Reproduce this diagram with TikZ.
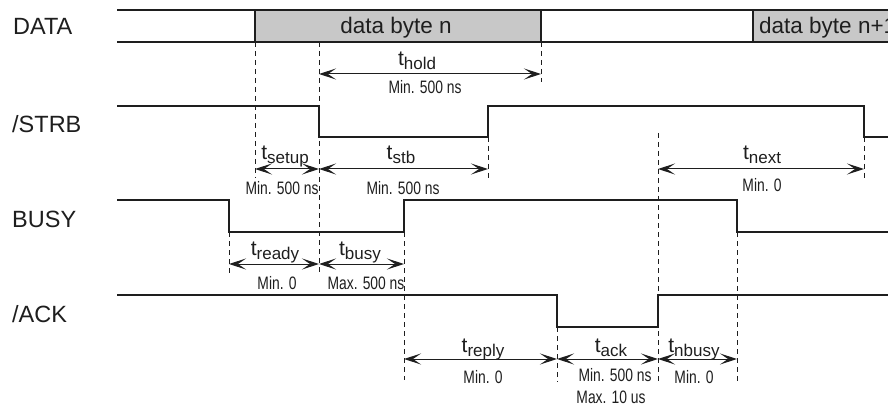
\documentclass[tikz,border=0pt]{standalone}
\usepackage{fontspec}
\setmainfont{Liberation Sans}
\newfontfamily\narrowsans[FakeStretch=0.77]{Liberation Sans}
\usetikzlibrary{arrows.meta}
\definecolor{boxgray}{RGB}{200,200,200}
\definecolor{ink}{RGB}{30,30,30}

% timing parameter name: t with a lowered subscript word
\newcommand\tname[1]{t\raisebox{-4pt}{\fontsize{17}{17}\selectfont #1}}

\begin{document}
\begin{tikzpicture}[x=1pt,y=-1pt,
  sig/.style={line width=1.6pt, draw=ink, line join=miter},
  bus/.style={line width=2pt, draw=ink},
  guide/.style={line width=0.7pt, draw=ink, dash pattern=on 5pt off 4pt},
  barb/.tip={Stealth[length=17pt, width=11pt, inset=8pt]},
  span/.style={line width=1pt, draw=ink, barb-barb},
  siglabel/.style={anchor=base west, inner sep=0pt, font=\fontsize{23.5}{23.5}\selectfont, text=ink},
  tlabel/.style={anchor=base, inner sep=0pt, font=\fontsize{21}{21}\selectfont, text=ink},
  limit/.style={anchor=base, inner sep=0pt, font=\narrowsans\fontsize{18}{18}\selectfont, text=ink},
  bytetext/.style={anchor=base, inner sep=0pt, font=\fontsize{22.5}{22.5}\selectfont, text=ink}]

\useasboundingbox (0,0) rectangle (888,406);
\clip (0,0) rectangle (888,406);

% ---------- signal names ----------
\node[siglabel] (nData) at (13,35) {DATA};
\node[siglabel] (nStrb) at (12,133) {/STRB};
\node[siglabel] (nBusy) at (12,227) {BUSY};
\node[siglabel] (nAck)  at (12,322) {/ACK};

% ---------- DATA bus ----------
\fill[boxgray] (255,10) rectangle (541,42);
\fill[boxgray] (753,10) rectangle (888,42);
\draw[bus] (117,10) -- (888,10);
\draw[bus] (117,42) -- (888,42);
\draw[sig] (255,10) -- (255,42);
\draw[sig] (541,10) -- (541,42);
\draw[sig] (753,10) -- (753,42);
\node[bytetext] (byteN)  at (396,34) {data byte n};
\node[bytetext, anchor=base west] (byteN1) at (759,34) {data byte n+1};

% ---------- /STRB ----------
\draw[sig] (117,106) -- (319,106) -- (319,137) -- (488,137) -- (488,106)
           -- (864,106) -- (864,137) -- (888,137);

% ---------- BUSY ----------
\draw[sig] (117,200) -- (229,200) -- (229,232) -- (404,232) -- (404,200)
           -- (737,200) -- (737,232) -- (888,232);

% ---------- /ACK ----------
\draw[sig] (117,295) -- (557,295) -- (557,327) -- (658,327) -- (658,295)
           -- (888,295);

% ---------- reference lines ----------
\coordinate (gA0) at (255,42);  \coordinate (gA1) at (255,178);
\coordinate (gB0) at (319,42);  \coordinate (gB1) at (319,274);
\coordinate (gC0) at (541,42);  \coordinate (gC1) at (541,82);
\coordinate (gD0) at (488,137); \coordinate (gD1) at (488,178);
\coordinate (gE0) at (864,137); \coordinate (gE1) at (864,178);
\coordinate (gF0) at (658,133); \coordinate (gF1) at (658,382);
\coordinate (gG0) at (229,232); \coordinate (gG1) at (229,275);
\coordinate (gH0) at (404,232); \coordinate (gH1) at (404,380);
\coordinate (gI0) at (737,232); \coordinate (gI1) at (737,382);
\coordinate (gJ0) at (557,327); \coordinate (gJ1) at (557,382);
\foreach \g in {A,B,C,D,E,F,G,H,I,J}
  \draw[guide] (g\g0) -- (g\g1);

% ---------- timing spans ----------
\coordinate (holdL) at (319,74);  \coordinate (holdR) at (541,74);
\draw[span] (holdL) -- (holdR);
\node[tlabel] (tHold) at (417,66) {\tname{hold}};
\node[limit]  (mHold) at (425,94) {Min. 500 ns};

\coordinate (setL) at (255,169);  \coordinate (setR) at (319,169);
\coordinate (stbR) at (488,169);
\draw[span] (setL) -- (setR);
\draw[span] (setR) -- (stbR);
\node[tlabel] (tSetup) at (285,160) {\tname{setup}};
\node[limit]  (mSetup) at (282,194) {Min. 500 ns};
\node[tlabel] (tStb)   at (401,160) {\tname{stb}};
\node[limit]  (mStb)   at (403,194) {Min. 500 ns};

\coordinate (nextL) at (658,169); \coordinate (nextR) at (864,169);
\draw[span] (nextL) -- (nextR);
\node[tlabel] (tNext) at (762,160) {\tname{next}};
\node[limit]  (mNext) at (762,191) {Min. 0};

\coordinate (rdyL) at (229,264);  \coordinate (rdyM) at (319,264);
\coordinate (bsyR) at (404,264);
\draw[span] (rdyL) -- (rdyM);
\draw[span] (rdyM) -- (bsyR);
\node[tlabel] (tReady) at (275,255) {\tname{ready}};
\node[limit]  (mReady) at (277,289) {Min. 0};
\node[tlabel] (tBusy)  at (360,255) {\tname{busy}};
\node[limit]  (mBusy)  at (366,289) {Max. 500 ns};

\coordinate (repL) at (404,359);  \coordinate (repR) at (557,359);
\coordinate (ackR) at (658,359);  \coordinate (nbR)  at (737,359);
\draw[span] (repL) -- (repR);
\draw[span] (repR) -- (ackR);
\draw[span] (ackR) -- (nbR);
\node[tlabel] (tReply) at (483,352) {\tname{reply}};
\node[limit]  (mReply) at (483,383) {Min. 0};
\node[tlabel] (tAck)   at (611,352) {\tname{ack}};
\node[limit]  (mAck)   at (615,381) {Min. 500 ns};
\node[limit]  (mAck2)  at (611,403) {Max. 10 us};
\node[tlabel] (tNbusy) at (694,352) {\tname{nbusy}};
\node[limit]  (mNbusy) at (694,383) {Min. 0};

\end{tikzpicture}
\end{document}
